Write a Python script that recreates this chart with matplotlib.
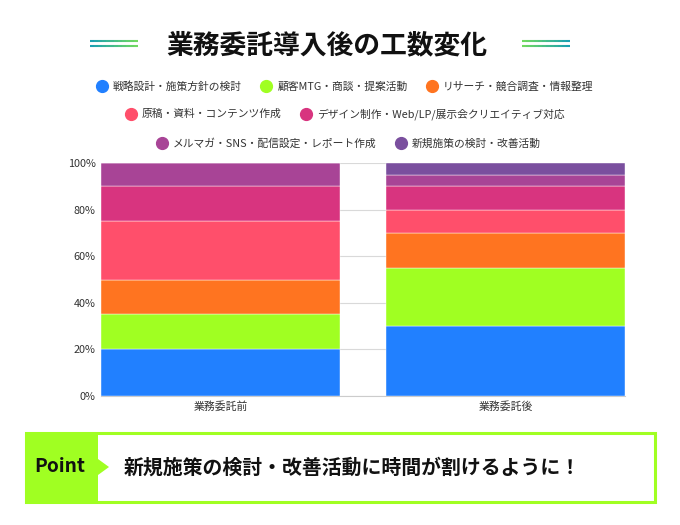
import matplotlib.pyplot as plt
import numpy as np
from matplotlib.lines import Line2D
from matplotlib.patches import Rectangle, Polygon

plt.rcParams['font.family'] = ['Noto Sans CJK JP', 'DejaVu Sans']

categories = ['業務委託前', '業務委託後']
series = ['戦略設計・施策方針の検討', '顧客MTG・商談・提案活動', 'リサーチ・競合調査・情報整理',
          '原稿・資料・コンテンツ作成', 'デザイン制作・Web/LP/展示会クリエイティブ対応',
          'メルマガ・SNS・配信設定・レポート作成', '新規施策の検討・改善活動']
before = [20, 15, 15, 25, 15, 10, 0]
after = [30, 25, 15, 10, 10, 5, 5]
colors = ['#2180FF', '#A0FF22', '#FF7420', '#FF4F6B', '#D8347F', '#A84496', '#7A4F9E']

W, H = 680, 525
fig = plt.figure(figsize=(6.8, 5.25), dpi=100)

def fx(x):
    return x / W

def fy(y):
    return 1 - y / H

# plot area
ax = fig.add_axes([fx(101), fy(396), fx(625) - fx(101), fy(163) - fy(396)])
x = np.arange(len(categories))
bottom = np.zeros(len(categories))
for i, name in enumerate(series):
    vals = np.array([before[i], after[i]])
    ax.bar(x, vals, 0.84, bottom=bottom, color=colors[i], edgecolor='white',
           linewidth=0.3, zorder=3, label=name)
    bottom += vals

ax.set_xlim(-0.42, 1.42)
ax.set_ylim(0, 100)
ax.set_yticks([0, 20, 40, 60, 80, 100])
ax.set_yticklabels(['0%', '20%', '40%', '60%', '80%', '100%'])
ax.set_xticks(x)
ax.set_xticklabels(categories)
ax.tick_params(axis='both', length=0, labelsize=7.8, colors='#333333', pad=4)
ax.grid(axis='y', color='#d9d9d9', linewidth=0.8, zorder=0)
for s in ['top', 'right', 'left']:
    ax.spines[s].set_visible(False)
ax.spines['bottom'].set_color('#cccccc')

# legend rows
rows = [[0, 1, 2], [3, 4], [5, 6]]
ys = [86, 114, 143]
xc = [345, 345, 349]
for r, yy, cx in zip(rows, ys, xc):
    handles = [Line2D([], [], marker='o', linestyle='none', markersize=8.5,
                      markerfacecolor=colors[k], markeredgecolor=colors[k]) for k in r]
    leg = fig.legend(handles, [series[k] for k in r], loc='center',
                     bbox_to_anchor=(fx(cx), fy(yy)), ncol=len(r), frameon=False,
                     fontsize=7.75, handletextpad=0.5, columnspacing=1.8, handlelength=1.0)
    for t in leg.get_texts():
        t.set_color('#333333')

# title
fig.text(fx(327), fy(45), '業務委託導入後の工数変化', ha='center', va='center',
         fontsize=19.3, fontweight='bold', color='#111111')
ca = np.array([0x1a, 0xa0, 0xb0]) / 255
cb = np.array([0x70, 0xd8, 0x60]) / 255
for x0, x1 in [(90, 138), (522, 570)]:
    xs = np.linspace(x0, x1, 13)
    for j in range(12):
        t = j / 11
        col = ca * (1 - t) + cb * t if x0 < 300 else cb * (1 - t) + ca * t
        for yy in (41, 46):
            fig.add_artist(Line2D([fx(xs[j]), fx(xs[j + 1])], [fy(yy), fy(yy)],
                                  color=col, linewidth=1.5, solid_capstyle='butt'))

# point box
green = '#A0FF22'
fig.add_artist(Rectangle((fx(26), fy(502)), fx(655) - fx(26), fy(433) - fy(502),
                         facecolor='white', edgecolor=green, linewidth=2.2))
fig.add_artist(Polygon([(fx(25), fy(432)), (fx(98), fy(432)), (fx(98), fy(459)),
                        (fx(109), fy(467)), (fx(98), fy(475)), (fx(98), fy(503)),
                        (fx(25), fy(503))], closed=True, facecolor=green, edgecolor='none'))
fig.text(fx(60), fy(467), 'Point', ha='center', va='center', fontsize=13.8,
         fontweight='bold', color='#111111')
fig.text(fx(124), fy(467), '新規施策の検討・改善活動に時間が割けるように！', ha='left', va='center',
         fontsize=14.3, fontweight='bold', color='#111111')

fig.savefig('out.png', dpi=100)
